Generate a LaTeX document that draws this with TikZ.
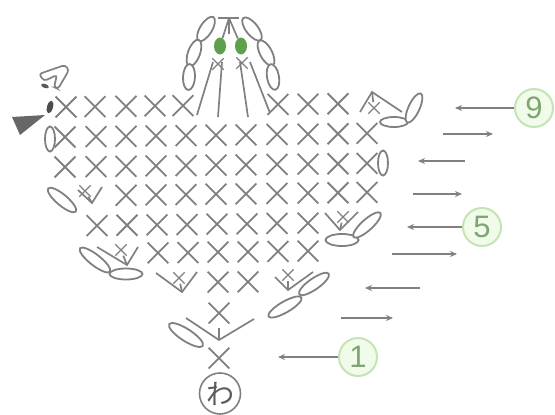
\documentclass[tikz,border=0pt]{standalone}
\usepackage{xcolor}
\usepackage{fontspec}
\setsansfont{Liberation Sans}
\newfontfamily\cjkfont{Noto Sans CJK JP}
\usetikzlibrary{arrows.meta,shapes.geometric,shapes.misc}
\definecolor{stitchGray}{HTML}{808080}
\definecolor{rowRing}{HTML}{C4E4B4}
\definecolor{rowFill}{HTML}{F1FBEA}
\definecolor{rowText}{HTML}{7FA672}
\definecolor{leafGreen}{HTML}{5FA04E}
\tikzset{
  stitch/.style={cross out,draw=stitchGray,line width=1.8pt,minimum size=19pt,inner sep=0pt},
  tinystitch/.style={cross out,draw=stitchGray,line width=1.4pt,minimum size=10pt,inner sep=0pt},
  loopst/.style={ellipse,draw=stitchGray,line width=1.8pt,fill=white,inner sep=0pt,minimum height=11pt},
  rowmark/.style={circle,draw=rowRing,line width=2pt,fill=rowFill,text=rowText,minimum size=38pt,inner sep=0pt,font=\sffamily\fontsize{31}{31}\selectfont},
  rowarrow/.style={draw=stitchGray,line width=1.5pt,-{Stealth[length=7pt,width=6pt]}},
  vline/.style={draw=stitchGray,line width=1.7pt},
}
\begin{document}
\begin{tikzpicture}[x=1pt,y=-1pt]
  \useasboundingbox (0,0) rectangle (555,415);
  % rows of stitches
  \foreach \rw/\rowy/\xlist in {9/107/{66,95,126,155,183,278,308,338},
      8/137/{65,96,126,156,186,216,246,277,308,338,367},
      7/167/{65,96,126,156,186,216,246,277,308,338,367},
      6/196/{126,156,186,216,246,277,308,338,367},
      5/226/{97,127,157,187,217,247,277,308},
      4/254/{158,188,218,248,278,308},
      3/284/{218,248},
      2/315/{219},
      1/360/{219}}{
    \foreach \cx in \xlist{
      \pgfmathsetmacro{\cy}{\rowy-(\cx-66)*0.012}
      \node[stitch] (x\rw-\cx) at (\cx,\cy) {};
    }
  }
  % increases
  \foreach \vname/\vx/\vy/\lx/\ly/\rx/\ry/\sx/\sy in {
      a/127/265/97/247/138/247/121/250,
      b/182/292/156/273/197/272/179/278,
      c/92/203/78/190/102/187/85/191,
      d/340/230/325/213/358/212/343/217,
      e/288/290/275/277/313/272/288/275,
      f/372/92/360/112/402/112/374/108}{
    \coordinate (v\vname) at (\vx,\vy);
    \coordinate (v\vname l) at (\lx,\ly);
    \coordinate (v\vname r) at (\rx,\ry);
    \node[tinystitch] (s\vname) at (\sx,\sy) {};
    \draw[vline] (v\vname l) -- (v\vname) -- (v\vname r);
    \draw[vline] (v\vname) -- (s\vname);
  }
  \coordinate (vg) at (219,340);
  \coordinate (vgl) at (186,318);
  \coordinate (vgr) at (254,319);
  \coordinate (vgt) at (219,328);
  \draw[vline] (vgl) -- (vg) -- (vgr);
  \draw[vline] (vgt) -- (vg);
  % chain loops
  \node[loopst,minimum width=38pt,rotate=-38] (oa) at (95,260) {};
  \node[loopst,minimum width=33pt] (ob) at (126,274) {};
  \node[loopst,minimum width=36pt,rotate=-40] (oc) at (62,200) {};
  \node[loopst,minimum width=33pt,minimum height=12pt] (od) at (342,240) {};
  \node[loopst,minimum width=36pt,rotate=42] (oe) at (367,225) {};
  \node[loopst,minimum width=36pt,rotate=35] (of) at (314,284) {};
  \node[loopst,minimum width=38pt,rotate=30] (og) at (285,307) {};
  \node[loopst,minimum width=40pt,minimum height=12pt,rotate=-33] (oh) at (186,335) {};
  \node[loopst,minimum width=28pt,minimum height=10pt] (oi) at (394,122) {};
  \node[loopst,minimum width=32pt,minimum height=11pt,rotate=65] (oj) at (414,108) {};
  \node[loopst,minimum width=25pt,minimum height=10pt,rotate=90] (ok) at (383,163) {};
  \node[loopst,minimum width=25pt,minimum height=10pt,rotate=90] (ol) at (50,139) {};
  % top of the body
  \node[loopst,minimum width=28pt,minimum height=12pt,rotate=58] (ta) at (206,29) {};
  \node[loopst,minimum width=28pt,minimum height=12pt,rotate=70] (tb) at (194,53) {};
  \node[loopst,minimum width=26pt,minimum height=12pt,rotate=87] (tc) at (189,77) {};
  \node[loopst,minimum width=28pt,minimum height=12pt,rotate=-52] (td) at (252,29) {};
  \node[loopst,minimum width=28pt,minimum height=12pt,rotate=-62] (te) at (266,53) {};
  \node[loopst,minimum width=26pt,minimum height=12pt,rotate=-80] (tf) at (273,77) {};
  \node[tinystitch] (tx1) at (218,64) {};
  \node[tinystitch] (tx2) at (242,63) {};
  \node[ellipse,fill=leafGreen,minimum width=12pt,minimum height=17pt,inner sep=0pt] (leafl) at (220,46) {};
  \node[ellipse,fill=leafGreen,minimum width=12pt,minimum height=17pt,inner sep=0pt] (leafr) at (241,46) {};
  \coordinate (barl) at (218,18);
  \coordinate (barr) at (239,18);
  \coordinate (barm) at (229,18);
  \coordinate (stem) at (229,34);
  \draw[vline] (barl) -- (barr);
  \draw[vline] (barm) -- (stem);
  \draw[vline] (barm) -- (leafl);
  \draw[vline] (barm) -- (leafr);
  \foreach \fname/\fx/\fy/\tx/\ty in {a/197/115/213/62,b/218/117/222/62,c/248/117/240/62,d/270/113/250/62}{
    \coordinate (fan\fname) at (\fx,\fy);
    \coordinate (fant\fname) at (\tx,\ty);
    \draw[vline] (fan\fname) -- (fant\fname);
  }
  % beak and eye corner
  \coordinate (beaka) at (12,117);
  \coordinate (beakb) at (45,115);
  \coordinate (beakc) at (20,135);
  \fill[stitchGray!80!black] (beaka) -- (beakb) -- (beakc) -- cycle;
  \node[ellipse,fill=stitchGray!60!black,minimum width=6pt,minimum height=13pt,inner sep=0pt,rotate=-15] (eye) at (50,107) {};
  \node[ellipse,fill=stitchGray!70!black,minimum width=8pt,minimum height=4pt,inner sep=0pt,rotate=-20] (dot) at (45,86) {};
  \draw[vline,rounded corners=3pt] (39,74) -- (65,65) -- (69,70) -- (58,89) -- (54,87) -- (57,75) -- (44,81) -- cycle;
  % ring
  \node[circle,draw=stitchGray,line width=1.6pt,minimum size=41pt,inner sep=0pt,text=stitchGray!70!black,font=\cjkfont\fontsize{28}{28}\selectfont] (ring) at (220,393.5) {わ};
  % row numbers
  \node[rowmark] (rnine) at (534,108) {9};
  \node[rowmark] (rfive) at (482,227) {5};
  \node[rowmark] (rone) at (358,357) {1};
  \coordinate (anine) at (455,108);
  \coordinate (afive) at (407,227);
  \coordinate (aone) at (278,357);
  \draw[rowarrow] (rnine) -- (anine);
  \draw[rowarrow] (rfive) -- (afive);
  \draw[rowarrow] (rone) -- (aone);
  \foreach \rname/\ax/\ay/\bx/\by in {eight/443/134/493/134,seven/465/161/418/161,six/413/194/462/194,
      four/392/254/457/254,three/420/288/365/288,two/341/318/393/318}{
    \coordinate (s\rname) at (\ax,\ay);
    \coordinate (e\rname) at (\bx,\by);
    \draw[rowarrow] (s\rname) -- (e\rname);
  }
\end{tikzpicture}
\end{document}
